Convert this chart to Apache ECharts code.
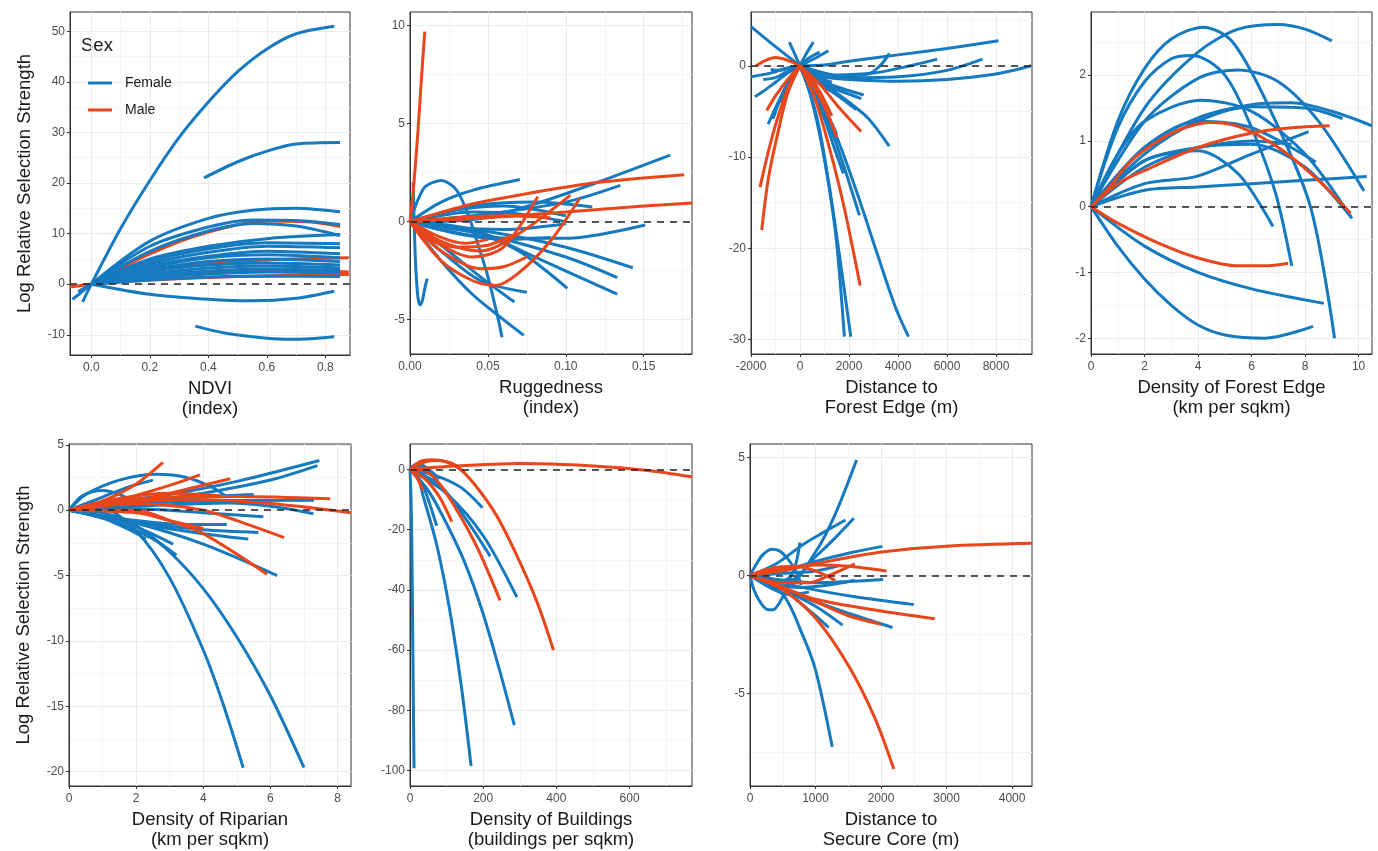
<!DOCTYPE html>
<html>
<head>
<meta charset="utf-8">
<title>Log Relative Selection Strength</title>
<script src="https://cdn.jsdelivr.net/npm/echarts@6/dist/echarts.min.js"></script>
<style>
html,body{margin:0;padding:0;background:#fff;}
#chart{width:1378px;height:851px;}
</style>
</head>
<body>
<div id="chart"></div>
<script>
// every curve is a list of [x, y] points
var ndviFemale = [
    [[-0.03,-3.5],[0,0],[0.1,11],[0.2,20.5],[0.3,29],[0.4,36],[0.5,42],[0.6,46.5],[0.7,49.5],[0.83,51]],
    [[0.385,21],[0.5,24.2],[0.6,26.3],[0.7,27.7],[0.85,28]],
    [[0,0],[0.2,8.5],[0.4,13],[0.55,14.6],[0.7,15],[0.85,14.3]],
    [[0,0],[0.2,7.5],[0.4,11.3],[0.55,12.7],[0.7,12.6],[0.85,11.8]],
    [[0,0],[0.2,6.5],[0.4,10.5],[0.55,12],[0.7,11.5],[0.85,9.6]],
    [[0,0],[0.2,5],[0.4,7.5],[0.6,9],[0.85,9.8]],
    [[0,0],[0.2,4.5],[0.4,7],[0.6,8.2],[0.85,8]],
    [[0,0],[0.2,4],[0.4,6.3],[0.6,7.5],[0.85,7.2]],
    [[0,0],[0.2,3.5],[0.4,5.5],[0.6,6.5],[0.85,6]],
    [[0,0],[0.2,3.2],[0.4,5.2],[0.6,5.8],[0.85,5.2]],
    [[0,0],[0.2,2.8],[0.4,4.5],[0.6,5],[0.85,4.5]],
    [[0,0],[0.2,2.5],[0.4,3.8],[0.6,4.2],[0.85,3.8]],
    [[0,0],[0.2,2],[0.4,3.2],[0.6,3.6],[0.85,3.2]],
    [[0,0],[0.2,1.6],[0.4,2.6],[0.6,3],[0.85,2.7]],
    [[0,0],[0.2,1.2],[0.4,2],[0.6,2.4],[0.85,2.2]],
    [[0,0],[0.2,0.8],[0.4,1.4],[0.6,1.6],[0.85,1.5]],
    [[0,0],[0.2,-2],[0.4,-3],[0.55,-3.3],[0.7,-2.8],[0.83,-1.4]],
    [[0.355,-8.3],[0.45,-9.6],[0.55,-10.4],[0.66,-10.9],[0.75,-10.8],[0.83,-10.4]],
    [[-0.065,-3],[-0.04,-1.9],[-0.02,-0.9],[0,0]],
    [[-0.045,-1.5],[-0.02,-0.6],[0,0]]
];
var ndviMale = [
    [[0,0],[0.2,6],[0.4,10.3],[0.6,12.5],[0.75,12.3],[0.85,11.4]],
    [[0,0],[0.2,1.5],[0.4,2.3],[0.6,2.8],[0.75,2.7],[0.88,2.4]],
    [[0,0],[0.2,2.5],[0.4,4],[0.6,4.8],[0.88,5.2]],
    [[-0.073,-0.5],[-0.04,-0.3],[0,0],[0.2,0.8],[0.5,1.5],[0.88,1.9]]
];

var ruggedFemale = [
    [[0.002,2.0],[0.0025,0.5],[0.0035,-2],[0.005,-3.8],[0.0065,-4.25],[0.008,-4],[0.0095,-3.4],[0.011,-2.9]],
    [[0,0],[0.005,1.1],[0.01,1.8],[0.02,2.1],[0.03,1.6],[0.038,0.2],[0.045,-1.5],[0.05,-2.8],[0.057,-5.1],[0.059,-5.9]],
    [[0,0],[0.02,1],[0.04,1.6],[0.0705,2.15]],
    [[0,0],[0.04,0.1],[0.08,0.9],[0.12,2],[0.167,3.4]],
    [[0,0],[0.05,0.4],[0.1,1.0],[0.135,1.85]],
    [[0,0],[0.05,-0.8],[0.1,-0.85],[0.151,-0.17]],
    [[0,0],[0.05,-0.5],[0.1,-1.3],[0.143,-2.35]],
    [[0,0],[0.05,-0.7],[0.1,-1.8],[0.133,-2.85]],
    [[0,0],[0.04,-0.4],[0.08,-1.8],[0.133,-3.7]],
    [[0,0],[0.04,-0.5],[0.07,-1.5],[0.101,-3.4]],
    [[0,0],[0.02,-2],[0.04,-3.7],[0.06,-5],[0.073,-5.8]],
    [[0,0],[0.02,-1.5],[0.045,-3],[0.075,-3.6]],
    [[0,0],[0.02,-1.2],[0.045,-2.8],[0.067,-4.1]],
    [[0,0],[0.04,0.8],[0.08,1.0],[0.117,0.75]],
    [[0,0],[0.03,0.6],[0.06,0.8],[0.1,0.3]],
    [[0,0],[0.03,-0.3],[0.06,-0.4],[0.1,-0.1]],
    [[0,0],[0.03,-0.6],[0.06,-0.9],[0.09,-0.8]],
    [[0,0],[0.04,0.5],[0.07,0.4],[0.1,0]]
];
var ruggedMale = [
    [[0,0],[0.002,1.5],[0.005,4.5],[0.0075,7.5],[0.0095,9.7]],
    [[0,0],[0.04,0.9],[0.08,1.5],[0.12,2.0],[0.176,2.4]],
    [[0,0],[0.05,0.2],[0.1,0.5],[0.15,0.8],[0.181,0.95]],
    [[0,0],[0.02,-2],[0.04,-3],[0.055,-3.25],[0.07,-2.6],[0.09,-1],[0.109,1.2]],
    [[0,0],[0.02,-1],[0.045,-1.5],[0.07,-0.6],[0.103,1.36]],
    [[0,0],[0.02,-1.2],[0.04,-1.8],[0.06,-1.3],[0.082,1.28]],
    [[0,0],[0.02,-1.5],[0.045,-2.4],[0.06,-2.3],[0.075,-1.8]],
    [[0,0],[0.015,-1],[0.03,-1.3],[0.05,-1.2],[0.065,-0.7]],
    [[0,0],[0.03,0.2],[0.06,0.3],[0.09,0.2]],
    [[0,0],[0.02,-0.8],[0.035,-1.1],[0.05,-0.9]]
];

var edgeDistFemale = [
    [[-2000,4.3],[-1000,2.1],[0,0]],
    [[0,0],[1000,0.1],[2000,0.5],[4000,1.2],[6000,1.9],[8100,2.75]],
    [[0,0],[1000,-1.2],[2000,-1.5],[4000,-1.7],[6000,-1.5],[8000,-0.9],[9450,0]],
    [[0,0],[1500,-1],[3000,-0.8],[4500,0],[5600,0.73]],
    [[0,0],[2000,-1.3],[4000,-1.2],[6000,-0.5],[7450,0.73]],
    [[0,0],[1500,-1.1],[2800,-0.9],[3300,0.1],[3650,1.36]],
    [[0,0],[500,-1.5],[1500,-2.6],[2500,-3.6]],
    [[0,0],[600,-1.3],[1500,-2.3],[2600,-3.2]],
    [[0,0],[700,-1.8],[1500,-3.2],[2300,-4.8]],
    [[0,0],[800,-1.6],[2000,-4],[2800,-5.8],[3640,-8.8]],
    [[0,0],[600,-2.8],[1200,-6.5],[1800,-11.1],[2426,-16.4]],
    [[0,0],[400,-3],[800,-7.5],[1200,-13.5],[1500,-19.5],[1813,-29.7]],
    [[0,0],[400,-2.8],[800,-7],[1300,-15],[1700,-22.5],[2074,-29.7]],
    [[0,0],[800,-3.5],[1600,-8.5],[2400,-14.5],[3200,-21],[3900,-26.5],[4428,-29.7]],
    [[0,0],[500,-2.5],[1000,-5.8],[1400,-9],[1772,-11.8]],
    [[0,0],[500,-2],[1000,-4.6],[1500,-7.5]],
    [[0,0],[-200,1.2],[-435,2.6]],
    [[0,0],[250,1.3],[546,2.6]],
    [[0,0],[600,0.8],[1160,1.65]],
    [[0,0],[400,0.9],[800,1.5]],
    [[0,0],[-500,-0.8],[-1000,-1.8],[-1500,-2.8],[-1840,-3.4]],
    [[0,0],[-600,-0.3],[-1200,-0.8],[-2000,-1.2]],
    [[0,0],[-400,-1.5],[-800,-3.5],[-1300,-6.4]],
    [[0,0],[-300,-1.2],[-700,-3],[-1100,-5.8]],
    [[0,0],[-500,-0.6],[-1000,-1.3],[-1500,-1.5]],
    [[0,0],[-400,-0.2],[-800,-0.5],[-1200,-0.4]],
    [[0,0],[-200,-0.5],[-500,-1.8],[-800,-4]],
    [[0,0],[500,-0.8],[1000,-1.5],[1300,-1.8]]
];
var edgeDistMale = [
    [[0,0],[-500,-3],[-1000,-8.5],[-1300,-12.5],[-1563,-18]],
    [[0,0],[-500,-2.5],[-1000,-6.5],[-1300,-9.5],[-1632,-13.3]],
    [[0,0],[-500,-1.5],[-1000,-3.3],[-1358,-4.9]],
    [[-1800,0],[-1400,0.6],[-1000,0.9],[-500,0.6],[0,0]],
    [[0,0],[600,-3.5],[1200,-9],[1800,-15.5],[2455,-24.1]],
    [[0,0],[800,-2],[1600,-4.6],[2495,-7.2]],
    [[0,0],[500,-2],[1000,-4.5],[1500,-7.8]],
    [[0,0],[400,-1.2],[800,-2.8],[1300,-5.5]]
];

var edgeDensFemale = [
    [[0,0],[1,1.3],[2,2.1],[3,2.55],[4.2,2.73],[5.3,2.5],[6.7,1.47],[8.2,0],[9.1,-2]],
    [[0,0],[1,1.2],[2,1.9],[3,2.25],[3.8,2.3],[5,2.0],[6,1.2],[6.9,0.2],[7.5,-0.9]],
    [[0,0],[2,1.5],[4,2.35],[5.5,2.7],[7,2.77],[8,2.7],[9,2.52]],
    [[0,0],[2,1.3],[4,1.95],[5.5,2.08],[7,1.9],[8.5,1.3],[10.2,0.24]],
    [[0,0],[1,0.8],[2,1.3],[4.1,1.62],[6,1.45],[8,0.8],[9.75,-0.18]],
    [[0,0],[2,0.9],[4,1.35],[6,1.55],[7.5,1.58],[9,1.45],[10.5,1.23]],
    [[0,0],[2,0.8],[4,1.3],[6,1.52],[8,1.5],[9.4,1.34]],
    [[0,0],[2,0.7],[4,0.9],[6,1.0],[7.5,0.95]],
    [[0,0],[2,0.9],[4,1.3],[6,1.2],[8.4,0.68]],
    [[0,0],[2,0.25],[4,0.3],[6,0.35],[8,0.4],[10.3,0.46]],
    [[0,0],[2,0.6],[4,0.9],[6,0.95],[8,0.6],[9.7,-0.15]],
    [[0,0],[2,0.7],[4,0.85],[5.5,0.5],[6.8,-0.3]],
    [[0,0],[2,0.35],[3.95,0.46],[6,0.8],[8.13,1.14]],
    [[0,0],[2,-0.6],[4,-1.0],[6,-1.25],[8.7,-1.47]],
    [[0,0],[1,-0.6],[2,-1.1],[3,-1.5],[4,-1.8],[5,-1.95],[6.5,-2.0],[8.3,-1.82]]
];
var edgeDensMale = [
    [[0,0],[0.7,0.3],[1.46,0.68],[2.5,1.0],[3.5,1.2],[4.5,1.28],[5.5,1.22],[7,0.9],[8.5,0.4],[9.7,-0.1]],
    [[0,0],[1,0.35],[2,0.55],[4,0.9],[6,1.12],[7.5,1.2],[8.92,1.23]],
    [[0,0],[1,-0.25],[2.5,-0.55],[4,-0.78],[5.5,-0.9],[6.5,-0.9],[7.37,-0.86]]
];

var riparianFemale = [
    [[0,0],[1,0.1],[2,-1.6],[3,-5.2],[4,-10.7],[4.6,-14.9],[5.19,-19.7]],
    [[0,0],[1,-0.2],[2,-1.2],[3,-3.2],[4,-6],[5,-9.7],[6,-14.2],[7,-19.7]],
    [[0,0],[2,-1],[4,-2.6],[6.2,-5]],
    [[0,0],[2,-0.9],[4,-1.5],[5.64,-1.7]],
    [[0,0],[2,-1],[4,-1.8],[5.34,-2.2]],
    [[0,0],[2,-0.8],[3.5,-1.1],[4.7,-1.1]],
    [[0,0],[1.5,-1],[2.5,-2.2],[3.2,-3.45]],
    [[0,0],[1.5,-0.8],[2.3,-1.6],[3.1,-2.6]],
    [[0,0],[1,-0.6],[1.8,-1.5],[2.29,-2.2]],
    [[0,0],[1,0.5],[3,1.2],[5,2.2],[7.46,3.8]],
    [[0,0],[2,0.6],[4,1.3],[6,2.3],[7.4,3.4]],
    [[0,0],[0.5,1.2],[1.5,2.3],[2.6,2.75],[3.5,2.5],[4.3,1.7],[4.7,1.0]],
    [[0,0],[0.4,1.1],[1,1.5],[1.5,1.2],[2,0.5]],
    [[0,0],[1,1],[1.8,1.8],[2.5,2.3]],
    [[0,0],[2,0.8],[4,0.7],[6,0.3],[7.28,-0.27]],
    [[0,0],[2,0.5],[4,0.7],[7.3,0.75]],
    [[0,0],[2,0.3],[4,0.5],[5.7,0.6]],
    [[0,0],[2,0.1],[4,-0.2],[5.79,-0.5]],
    [[0,0],[2,0.5],[4,1.0],[5.5,1.2]]
];
var riparianMale = [
    [[0,0],[2,0],[3,-0.8],[4,-1.8],[5.9,-4.9]],
    [[0,0],[2,0.5],[4,0],[5,-0.8],[6.41,-2.1]],
    [[0,0],[1,0.7],[2,2],[2.8,3.65]],
    [[0,0],[1.5,0.8],[3,1.9],[3.9,2.7]],
    [[0,0],[2,0.7],[3.5,1.6],[4.8,2.4]],
    [[0,0],[1,0.6],[3,1.0],[5,1.05],[7.78,0.87]],
    [[0,0],[2,0.7],[4,0.8],[6,0.5],[8.4,-0.2]],
    [[0,0],[1.5,0.9],[3,1.3],[4.5,1.1]],
    [[0,0],[2,-0.2],[3,-0.8],[4,-1.4]]
];

var buildingsFemale = [
    [[0,0],[3,-10],[5,-25],[7,-50],[9,-75],[11,-99.3]],
    [[0,0],[20,-2],[36,-8.8],[73,-25],[109,-47],[141,-72.7],[167,-98.6]],
    [[0,0],[50,-7],[100,-18],[150,-31],[200,-48],[250,-69],[285,-85]],
    [[0,0],[100,-8],[200,-22],[292,-42.4]],
    [[0,0],[80,-5],[150,-16],[219,-28.8]],
    [[0,0],[70,-2],[140,-6],[198,-12.7]],
    [[0,0],[30,-4],[50,-10],[73,-18.7]],
    [[0,0],[20,2],[40,1],[80,-3]],
    [[0,0],[15,1.5],[30,0.5],[60,-2]]
];
var buildingsMale = [
    [[0,0],[30,2.8],[59,3.3],[100,2.6],[128,1.1],[173,-4.4],[237,-15.4],[292,-28.6],[347,-44],[392,-60]],
    [[0,0],[100,1],[300,2],[500,1.2],[650,-0.3],[770,-2.4]],
    [[0,0],[50,-1],[100,-8],[180,-25],[246,-43.5]],
    [[0,0],[40,-3],[80,-9],[114,-17.3]],
    [[0,0],[20,-3],[36,-7]],
    [[0,0],[40,2.5],[80,3],[120,1.5],[150,-1]]
];

var coreFemale = [
    [[0,0],[600,-0.3],[1000,1],[1300,2.6],[1626,4.9]],
    [[0,0],[400,0.5],[800,1.3],[1100,1.8],[1458,2.36]],
    [[0,0],[600,-0.2],[1000,0.8],[1300,1.6],[1585,2.43]],
    [[0,0],[500,0.2],[1000,0.6],[1500,0.95],[2022,1.24]],
    [[0,0],[500,-0.2],[1000,-0.3],[1500,-0.25],[2032,-0.17]],
    [[0,0],[800,-0.5],[1600,-0.9],[2500,-1.23]],
    [[0,0],[700,-0.8],[1400,-1.5],[2175,-2.2]],
    [[0,0],[500,-0.6],[1000,-1.3],[1413,-2.1]],
    [[0,0],[400,-0.3],[700,-1],[1000,-1.7],[1200,-2.2]],
    [[0,0],[500,-0.8],[800,-2.5],[1000,-4],[1255,-7.26]],
    [[0,0],[100,0.5],[200,0.9],[330,1.12],[450,1.05],[580,0.7],[700,0.2],[780,-0.4]],
    [[0,0],[60,-0.6],[150,-1.1],[250,-1.42],[350,-1.45],[450,-1.15],[550,-0.6],[620,0]],
    [[0,0],[350,-0.3],[600,-0.1],[700,0.5],[762,1.4]],
    [[0,0],[500,0.1],[1000,0.2],[1347,0.42]],
    [[0,0],[400,-0.4],[800,-0.5],[1200,-0.4],[1600,-0.2]],
    [[0,0],[300,-0.5],[600,-0.8],[900,-0.7]]
];
var coreMale = [
    [[0,0],[500,0.2],[1000,0.5],[2000,1.0],[3000,1.25],[4304,1.37]],
    [[0,0],[500,0.3],[1000,0.45],[1500,0.4],[2083,0.2]],
    [[0,0],[500,-0.5],[1000,-1],[2000,-1.5],[2820,-1.83]],
    [[0,0],[500,-0.5],[1000,-1.1],[1500,-1.7],[2000,-2.06]],
    [[0,0],[500,-0.6],[1000,-1.8],[1500,-3.8],[1900,-6],[2195,-8.2]],
    [[0,0],[300,0.3],[700,0.4],[1000,0.2],[1300,-0.2]],
    [[0,0],[500,-0.3],[900,-0.3],[1200,0],[1600,0.5]]
];

var xTitles = ['NDVI\n(index)', 'Ruggedness\n(index)', 'Distance to\nForest Edge (m)',
    'Density of Forest Edge\n(km per sqkm)', 'Density of Riparian\n(km per sqkm)',
    'Density of Buildings\n(buildings per sqkm)', 'Distance to\nSecure Core (m)'];
var yTitle = 'Log Relative Selection Strength';

var BLUE = '#157abf';
var RED = '#e8461b';
var FONT = 'Liberation Sans, Arial, sans-serif';

// panel boxes and axis ranges
var panels = [
    {box:[70,12,280,343],  x:[-0.073,0.884,0.2,1], y:[-14,53.8,10],     f:ndviFemale,      m:ndviMale, maleFirst:true},
    {box:[410,12,282,342], x:[0,0.181,0.05,2],     y:[-6.75,10.7,5],    f:ruggedFemale,    m:ruggedMale},
    {box:[751,12,281,342], x:[-2000,9470,2000,0],  y:[-31.6,5.9,10],    f:edgeDistFemale,  m:edgeDistMale},
    {box:[1091,12,281,342],x:[0,10.5,2,0],         y:[-2.24,2.96,1],    f:edgeDensFemale,  m:edgeDensMale},
    {box:[69,444,282,344], x:[0,8.4,2,0],          y:[-21.1,5.06,5],    f:riparianFemale,  m:riparianMale},
    {box:[410,444,282,344],x:[0,770.6,200,0],      y:[-105.2,8.5,20],   f:buildingsFemale, m:buildingsMale},
    {box:[750,444,282,344],x:[0,4304,1000,0],      y:[-8.92,5.58,5],    f:coreFemale,      m:coreMale}
];

var chart = echarts.init(document.getElementById('chart'));

function isTick(v, step){
    var r = v / step;
    return Math.abs(r - Math.round(r)) < 1e-6;
}

function axisBase(min, max, step, digits){
    return {
        type: 'value',
        min: min,
        max: max,
        minInterval: step,
        maxInterval: step,
        axisLine: {show: true, onZero: false, lineStyle: {color: '#333', width: 1}},
        axisTick: {show: true, length: 3, lineStyle: {color: '#333'}},
        axisLabel: {
            color: '#4d4d4d',
            fontSize: 12,
            fontFamily: FONT,
            showMinLabel: isTick(min, step),
            showMaxLabel: isTick(max, step),
            formatter: function(v){ return v.toFixed(digits); }
        },
        splitLine: {show: true, showMinLine: false, showMaxLine: false,
            lineStyle: {color: '#ebebeb', width: 1}},
        minorTick: {show: false, splitNumber: 2},
        minorSplitLine: {show: true, lineStyle: {color: '#f5f5f5', width: 1}}
    };
}

var grids = [], xAxes = [], yAxes = [], series = [];

function curve(name, pts, i){
    return {
        name: name,
        type: 'line',
        xAxisIndex: i,
        yAxisIndex: i,
        data: pts,
        smooth: 0.3,
        symbol: 'none',
        silent: true,
        clip: true,
        lineStyle: {width: 3, color: name == 'Female' ? BLUE : RED},
        itemStyle: {color: name == 'Female' ? BLUE : RED}
    };
}

panels.forEach(function(p, i){
    grids.push({left: p.box[0], top: p.box[1], width: p.box[2], height: p.box[3],
        show: true, borderColor: '#333', borderWidth: 1, backgroundColor: '#fff'});

    var xa = axisBase(p.x[0], p.x[1], p.x[2], p.x[3]);
    xa.gridIndex = i;
    xa.axisLabel.margin = 7;
    xa.name = xTitles[i];
    xa.nameLocation = 'middle';
    xa.nameGap = 24;
    xa.nameTextStyle = {fontSize: 18.5, color: '#1a1a1a', lineHeight: 20, fontFamily: FONT};
    xAxes.push(xa);

    var ya = axisBase(p.y[0], p.y[1], p.y[2], 0);
    ya.gridIndex = i;
    ya.axisLabel.margin = 5;
    if (i == 0 || i == 4) {
        ya.name = yTitle;
        ya.nameLocation = 'middle';
        ya.nameGap = 36;
        ya.nameTextStyle = {fontSize: 18.5, color: '#1a1a1a', fontFamily: FONT};
    }
    yAxes.push(ya);

    var fs = p.f.map(function(c){ return curve('Female', c, i); });
    var ms = p.m.map(function(c){ return curve('Male', c, i); });
    var list = p.maleFirst ? ms.concat(fs) : fs.concat(ms);
    // dashed zero reference line
    list[list.length - 1].markLine = {
        silent: true,
        symbol: ['none', 'none'],
        label: {show: false},
        lineStyle: {color: '#222', type: [7, 6], width: 1.6},
        data: [{yAxis: 0}]
    };
    series = series.concat(list);
});

var option = {
    animation: false,
    backgroundColor: '#fff',
    grid: grids,
    xAxis: xAxes,
    yAxis: yAxes,
    legend: {
        data: ['Female', 'Male'],
        orient: 'vertical',
        left: 83,
        top: 71,
        icon: 'rect',
        itemWidth: 24,
        itemHeight: 3,
        itemGap: 13,
        selectedMode: false,
        textStyle: {fontSize: 14, color: '#1a1a1a', padding: [0, 0, 0, 8], fontFamily: FONT}
    },
    graphic: [{
        type: 'text',
        left: 81,
        top: 36,
        style: {text: 'Sex', fontSize: 18.5, fill: '#1a1a1a', fontFamily: FONT}
    }],
    series: series
};
chart.setOption(option);
</script>
</body>
</html>
